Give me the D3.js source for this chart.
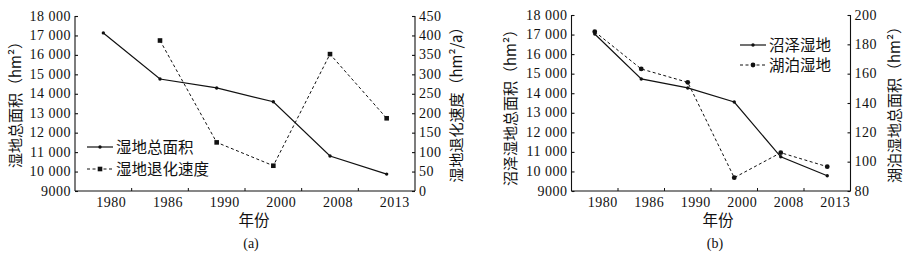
<!DOCTYPE html>
<html>
<head>
<meta charset="utf-8">
<script src="https://cdn.jsdelivr.net/npm/d3@7"></script>
<style>
  html, body { margin: 0; padding: 0; background: #fff; }
  svg { display: block; }
</style>
</head>
<body>
<div id="chart"></div>
<script>
// Years on the x axis (both panels)
const years = ['1980', '1986', '1990', '2000', '2008', '2013'];

// Panel (a): total wetland area (hm2) and degradation rate (hm2/a)
const totalArea = [17130, 14760, 14300, 13590, 10800, 9870];
const rateYears = ['1986', '1990', '2000', '2008', '2013'];
const degradeRate = [387, 125, 65, 352, 187];

// Panel (b): marsh wetland area (left) and lake wetland area (right)
const marshArea = [17030, 14730, 14270, 13550, 10750, 9780];
const lakeArea = [188.6, 163.2, 154.1, 89.1, 106.1, 96.6];

const leftTicks = [9000, 10000, 11000, 12000, 13000, 14000, 15000, 16000, 17000, 18000];
const rateTicks = [0, 50, 100, 150, 200, 250, 300, 350, 400, 450];
const lakeTicks = [80, 100, 120, 140, 160, 180, 200];

const NUM_FONT = '"Liberation Serif", "DejaVu Serif", serif';
const CJK_FONT = '"Noto Sans CJK SC", "Noto Sans", sans-serif';
const INK = '#111';

const svg = d3.select('#chart')
    .append('svg')
    .attr('width', 912)
    .attr('height', 259)
    .style('background', '#fff');

// Format 18000 -> "18 000", but 9000 stays "9000"
function fmtNum(v) {
    if (v >= 10000) return d3.format(',')(v).replace(',', ' ');
    return String(v);
}

function drawPanel(cfg) {
    const g = svg.append('g');
    const x = d3.scaleBand().domain(years).range([cfg.x0, cfg.x1]);
    const yL = d3.scaleLinear().domain([9000, 18000]).range([cfg.yBottom, cfg.yTop]);
    const yR = d3.scaleLinear().domain(cfg.rightDomain).range([cfg.yBottom, cfg.yTop]);
    const cx = d => x(d) + x.bandwidth() / 2;

    // left axis (ticks inward)
    const left = g.append('g')
        .attr('transform', `translate(${cfg.x0},0)`)
        .call(d3.axisRight(yL).tickValues(leftTicks).tickSize(3).tickFormat(''));
    left.select('.domain').attr('d', `M0,${cfg.yTop}V${cfg.yBottom}`);
    g.append('g').selectAll('text')
        .data(leftTicks)
        .join('text')
        .attr('x', cfg.x0 - 4)
        .attr('y', d => yL(d) + 4.5)
        .attr('text-anchor', 'end')
        .attr('font-family', NUM_FONT)
        .attr('font-size', '14px')
        .attr('letter-spacing', '0.5px')
        .attr('fill', INK)
        .text(fmtNum);

    // right axis (ticks inward)
    const right = g.append('g')
        .attr('transform', `translate(${cfg.x1},0)`)
        .call(d3.axisLeft(yR).tickValues(cfg.rightTicks).tickSize(3).tickFormat(''));
    right.select('.domain').attr('d', `M0,${cfg.yTop}V${cfg.yBottom}`);
    g.append('g').selectAll('text')
        .data(cfg.rightTicks)
        .join('text')
        .attr('x', cfg.x1 + 4)
        .attr('y', d => yR(d) + 4.5)
        .attr('text-anchor', 'start')
        .attr('font-family', NUM_FONT)
        .attr('font-size', '14px')
        .attr('letter-spacing', '0.5px')
        .attr('fill', INK)
        .text(d => d);

    // bottom axis: ticks at band boundaries, labels a bit right of center
    const bottom = g.append('g')
        .attr('transform', `translate(0,${cfg.yBottom})`)
        .call(d3.axisTop(x).tickSize(0).tickFormat(''));
    bottom.select('.domain').attr('d', `M${cfg.x0},0H${cfg.x1}`);
    g.append('g').selectAll('line')
        .data(years.slice(1))
        .join('line')
        .attr('x1', d => x(d)).attr('x2', d => x(d))
        .attr('y1', cfg.yBottom).attr('y2', cfg.yBottom - 3)
        .attr('stroke', INK);
    g.append('g').selectAll('text')
        .data(years)
        .join('text')
        .attr('x', d => cx(d) + 8)
        .attr('y', cfg.yBottom + 16)
        .attr('text-anchor', 'middle')
        .attr('font-family', NUM_FONT)
        .attr('font-size', '14px')
        .attr('letter-spacing', '0.5px')
        .attr('fill', INK)
        .text(d => d);
    g.selectAll('.domain, .tick line').attr('stroke', INK).attr('stroke-width', 1.1);

    // axis titles
    g.append('text')
        .attr('transform', `translate(${cfg.leftTitleX},${cfg.leftTitleY}) rotate(-90)`)
        .attr('text-anchor', 'middle')
        .attr('font-family', CJK_FONT)
        .attr('font-size', '15px')
        .attr('fill', INK)
        .text(cfg.leftTitle);
    g.append('text')
        .attr('transform', `translate(${cfg.rightTitleX},${cfg.rightTitleY}) rotate(-90)`)
        .attr('text-anchor', 'middle')
        .attr('font-family', CJK_FONT)
        .attr('font-size', '15px')
        .attr('fill', INK)
        .text(cfg.rightTitle);
    g.append('text')
        .attr('x', cfg.xTitleX)
        .attr('y', 226)
        .attr('text-anchor', 'middle')
        .attr('font-family', CJK_FONT)
        .attr('font-size', '15.5px')
        .attr('fill', INK)
        .text('年份');
    g.append('text')
        .attr('x', cfg.xTitleX - 3)
        .attr('y', 248)
        .attr('text-anchor', 'middle')
        .attr('font-family', NUM_FONT)
        .attr('font-size', '14px')
        .attr('fill', INK)
        .text(cfg.caption);

    // series 1: solid line with small dots
    const s1 = years.map((yr, i) => [cx(yr), yL(cfg.leftValues[i])]);
    g.append('path')
        .attr('d', d3.line()(s1))
        .attr('fill', 'none')
        .attr('stroke', INK)
        .attr('stroke-width', 1.2);
    g.append('g').selectAll('circle')
        .data(s1)
        .join('circle')
        .attr('cx', d => d[0]).attr('cy', d => d[1])
        .attr('r', 1.7)
        .attr('fill', INK);

    // series 2: dashed line
    const s2 = cfg.rightYears.map((yr, i) => [cx(yr), yR(cfg.rightValues[i])]);
    g.append('path')
        .attr('d', d3.line()(s2))
        .attr('fill', 'none')
        .attr('stroke', INK)
        .attr('stroke-width', 1)
        .attr('stroke-dasharray', '3,2.5');
    drawMarkers(g, s2, cfg.marker2);

    // legend
    const lg = g.append('g');
    const rows = [
        { label: cfg.legend[0], dash: null, marker: 'dot' },
        { label: cfg.legend[1], dash: '3,2.5', marker: cfg.marker2 }
    ];
    rows.forEach((r, i) => {
        const ly = cfg.legendY + i * cfg.legendGap;
        lg.append('line')
            .attr('x1', cfg.legendX).attr('x2', cfg.legendX + 26)
            .attr('y1', ly).attr('y2', ly)
            .attr('stroke', INK)
            .attr('stroke-width', r.dash ? 1 : 1.2)
            .attr('stroke-dasharray', r.dash);
        if (r.marker === 'dot') {
            lg.append('circle').attr('cx', cfg.legendX + 13).attr('cy', ly).attr('r', 1.7).attr('fill', INK);
        } else {
            drawMarkers(lg, [[cfg.legendX + 13, ly]], r.marker);
        }
        lg.append('text')
            .attr('x', cfg.legendX + 29)
            .attr('y', ly + 5.5)
            .attr('font-family', CJK_FONT)
            .attr('font-size', '15.5px')
            .attr('fill', INK)
            .text(r.label);
    });
}

function drawMarkers(g, pts, kind) {
    if (kind === 'square') {
        g.append('g').selectAll('rect')
            .data(pts)
            .join('rect')
            .attr('x', d => d[0] - 2.3).attr('y', d => d[1] - 2.3)
            .attr('width', 4.6).attr('height', 4.6)
            .attr('fill', INK);
    } else {
        g.append('g').selectAll('circle')
            .data(pts)
            .join('circle')
            .attr('cx', d => d[0]).attr('cy', d => d[1])
            .attr('r', 2.4)
            .attr('fill', INK);
    }
}

drawPanel({
    x0: 75, x1: 415, yTop: 16, yBottom: 191,
    rightDomain: [0, 450], rightTicks: rateTicks,
    leftValues: totalArea, rightYears: rateYears, rightValues: degradeRate,
    marker2: 'square',
    leftTitle: '湿地总面积（hm²）', leftTitleX: 21, leftTitleY: 101,
    rightTitle: '湿地退化速度（hm²/a）', rightTitleX: 462, rightTitleY: 101,
    xTitleX: 254, caption: '(a)',
    legend: ['湿地总面积', '湿地退化速度'],
    legendX: 87, legendY: 147, legendGap: 22
});

drawPanel({
    x0: 571.5, x1: 850.5, yTop: 15, yBottom: 191,
    rightDomain: [80, 200], rightTicks: lakeTicks,
    leftValues: marshArea, rightYears: years, rightValues: lakeArea,
    marker2: 'dot2',
    leftTitle: '沼泽湿地总面积（hm²）', leftTitleX: 516, leftTitleY: 104,
    rightTitle: '湖泊湿地总面积（hm²）', rightTitleX: 900, rightTitleY: 101,
    xTitleX: 718, caption: '(b)',
    legend: ['沼泽湿地', '湖泊湿地'],
    legendX: 740, legendY: 45, legendGap: 20
});
</script>
</body>
</html>
